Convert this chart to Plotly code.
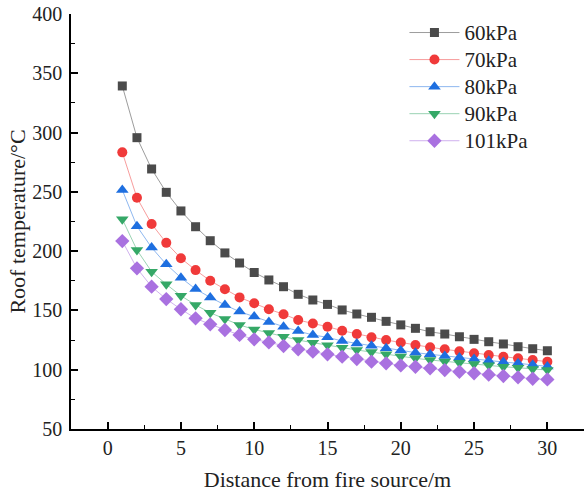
import plotly.graph_objects as go

distance = list(range(1, 31))

t60 = [339.3, 295.7, 269.3, 249.6, 233.9, 220.6, 208.8, 198.5, 190.0, 182.0,
       175.7, 170.0, 163.6, 158.8, 155.1, 150.4, 147.0, 144.2, 140.8, 137.8,
       134.9, 132.0, 130.1, 127.8, 125.6, 123.6, 121.7, 119.4, 117.7, 116.0]
t70 = [283.3, 245.0, 222.9, 207.0, 194.0, 184.0, 175.0, 167.8, 161.0, 156.0,
       151.0, 146.8, 141.9, 139.0, 136.3, 132.9, 130.1, 127.3, 125.0, 123.0,
       120.8, 118.9, 117.2, 115.5, 113.8, 112.4, 111.0, 109.6, 108.2, 106.8]
t80 = [251.6, 221.0, 203.0, 188.9, 177.6, 168.0, 161.0, 154.6, 149.0, 144.8,
       140.2, 136.3, 132.6, 129.3, 127.3, 124.2, 122.2, 120.3, 118.0, 116.2,
       114.4, 113.0, 111.6, 110.2, 109.0, 107.6, 106.5, 105.4, 104.2, 102.8]
t90 = [227.0, 201.0, 182.7, 172.0, 162.4, 154.6, 148.0, 142.8, 137.7, 134.0,
       131.0, 127.8, 125.0, 122.8, 120.6, 118.6, 116.6, 114.9, 113.0, 111.2,
       109.6, 108.2, 107.0, 105.9, 104.8, 103.7, 102.5, 101.7, 100.6, 99.7]
t101 = [208.5, 185.5, 170.0, 159.6, 151.0, 143.3, 138.3, 133.5, 129.3, 125.6,
        123.0, 120.0, 117.2, 115.2, 113.0, 111.0, 109.0, 106.8, 105.4, 103.6,
        102.5, 101.2, 99.7, 98.3, 97.0, 95.8, 94.7, 93.6, 92.4, 91.8]

series_names = ["60kPa", "70kPa", "80kPa", "90kPa", "101kPa"]
series_values = [t60, t70, t80, t90, t101]
colors = ["#4b4b4b", "#f03a3a", "#1e6fe0", "#35a867", "#a971e0"]
line_colors = ["rgba(75,75,75,0.55)", "rgba(240,58,58,0.5)", "rgba(30,111,224,0.5)",
               "rgba(53,168,103,0.5)", "rgba(169,113,224,0.55)"]
symbols = ["square", "circle", "triangle-up", "triangle-down", "diamond"]
sizes = [9, 10, 11, 11, 11]

fig = go.Figure()
for name, vals, c, lc, s, sz in zip(series_names, series_values, colors, line_colors, symbols, sizes):
    fig.add_trace(go.Scatter(
        x=distance, y=vals, name="<span style='font-size:21px'>" + name + "</span>",
        mode="lines+markers",
        line=dict(color=lc, width=1),
        marker=dict(symbol=s, size=sz, color=c, line=dict(width=0)),
    ))

font_family = "Liberation Serif, Times New Roman, serif"
axis_common = dict(
    showline=True, linecolor="black", linewidth=1.5,
    ticks="inside", ticklen=7, tickwidth=1.5, tickcolor="black",
    showgrid=False, zeroline=False, mirror=False,
    tickfont=dict(family=font_family, size=20, color="#222"),
    minor=dict(ticks="inside", ticklen=4, tickwidth=1.2, tickcolor="black", showgrid=False),
)

fig.update_layout(
    width=584, height=494,
    margin=dict(l=71, r=0, t=14, b=65),
    paper_bgcolor="white", plot_bgcolor="white",
    font=dict(family=font_family, color="#222"),
    xaxis=dict(range=[-2.5, 32.5], tickmode="array", tickvals=[0, 5, 10, 15, 20, 25, 30],
               title=dict(text="Distance from fire source/m", font=dict(family=font_family, size=22), standoff=14),
               **axis_common),
    yaxis=dict(range=[50, 400], tickmode="array", tickvals=[50, 100, 150, 200, 250, 300, 350, 400],
               title=dict(text="Roof temperature/°C", font=dict(family=font_family, size=22), standoff=1),
               ticklabelstandoff=3,
               **axis_common),
    legend=dict(x=0.65, y=1.0, xanchor="left", yanchor="top",
                font=dict(family=font_family, size=18.5, color="#222"),
                bgcolor="rgba(0,0,0,0)", tracegroupgap=0, itemwidth=50),
    showlegend=True,
)
fig.update_xaxes(minor=dict(dtick=2.5, tick0=0))
fig.update_yaxes(minor=dict(dtick=25, tick0=0))

fig.write_html("out.html")
